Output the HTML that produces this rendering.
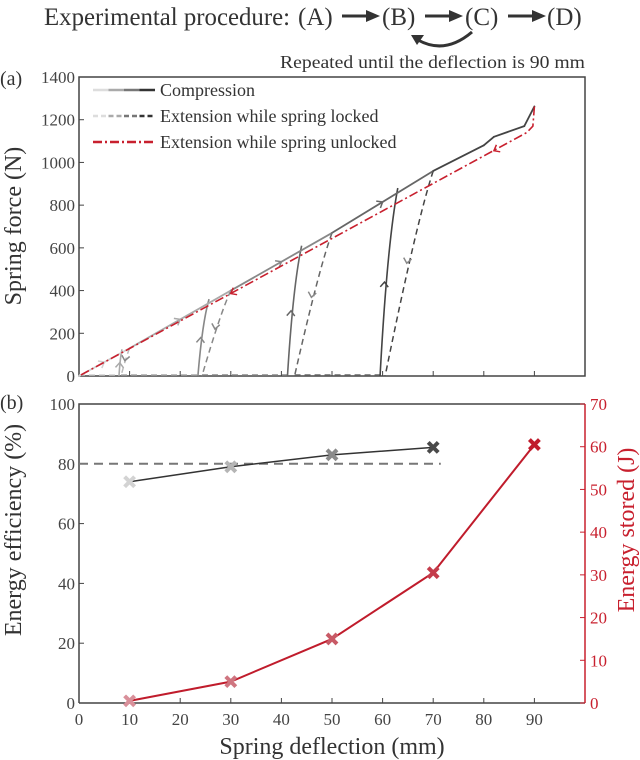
<!DOCTYPE html>
<html><head><meta charset="utf-8"><style>
body{margin:0;background:#fff;}
svg, svg text{font-family:"Liberation Serif","DejaVu Serif",serif;}
</style></head><body>
<svg id="fig" font-family="Liberation Serif, DejaVu Serif, serif" width="640" height="760" viewBox="0 0 640 760" xmlns="http://www.w3.org/2000/svg" style="display:block">
<g fill="#333" font-size="25">
<text x="44" y="25" textLength="246" lengthAdjust="spacingAndGlyphs">Experimental procedure:</text>
<text x="298" y="25">(A)</text>
<text x="382" y="25">(B)</text>
<text x="465" y="25">(C)</text>
<text x="547" y="25">(D)</text>
<path d="M342 16 H368" stroke="#333" stroke-width="3"/><path d="M366 10 L380 16 L366 22Z" fill="#333"/>
<path d="M425 16 H450" stroke="#333" stroke-width="3"/><path d="M449 10 L463 16 L449 22Z" fill="#333"/>
<path d="M508 16 H533" stroke="#333" stroke-width="3"/><path d="M532 10 L546 16 L532 22Z" fill="#333"/>
<path d="M472 32 Q445 55 418 40" stroke="#333" stroke-width="3" fill="none"/><path d="M411 35 L424 35 L417 45Z" fill="#333"/>
<text x="280" y="68" font-size="18" textLength="305" lengthAdjust="spacingAndGlyphs">Repeated until the deflection is 90 mm</text>
</g>
<text x="0" y="85" font-size="20" fill="#333">(a)</text>
<text x="0" y="409" font-size="20" fill="#333">(b)</text>
<g id="topchart"></g>
<g id="botchart"></g>
</svg>
<script>
// ---- top chart data
const topXTicks=[0,10,20,30,40,50,60,70,80,90,100];
const topYTicks=[0,200,400,600,800,1000,1200,1400];
const compX=[0,10,30,50,70,80,82,88,90];
const compY=[0,130,400,670,960,1080,1120,1170,1262];
const compColors=['#d0d0d0','#aaa','#888','#666','#444','#444','#444','#444'];
const reloadBaseX=[7.9,23.5,41.2,59.5];
const reloadTopX=[8.5,25.7,44,63];
const reloadTopY=[125,360,610,880];
const lockStartX=[10,30,50,70];
const lockStartY=[130,400,670,960];
const lockEndX=[8.3,24.3,42.6,60.5];
const redX=[0,88.5,89.7,90];
const redY=[0,1140,1170,1262];
// ---- bottom chart data
const defl=[10,30,50,70,90];
const eff=[74,79,83,85.5];
const energy=[0.5,5,15,30.5,60.5];
const effColors=['#d3d3d3','#b5b5b5','#8a8a8a','#4a4a4a'];
const enColors=['#d9909a','#cf7580','#c85a66','#c43c4b','#c01c2c'];
const botYTicks=[0,20,40,60,80,100];
const botY2Ticks=[0,10,20,30,40,50,60,70];
const refLine=80;

const NS='http://www.w3.org/2000/svg';
function mk(parent,tag,attrs,txt){const e=document.createElementNS(NS,tag);for(const k in attrs)e.setAttribute(k,attrs[k]);if(txt!==undefined)e.textContent=txt;parent.appendChild(e);return e;}
const L=79,R=585;
const xs=v=>L+(v/100)*(R-L);
const T=77,B=376;
const ys=v=>B-(v/1400)*(B-T);
const tg=document.getElementById('topchart');
let fr=mk(tg,'rect',{x:L,y:T,width:R-L,height:B-T,fill:'none',stroke:'#444','stroke-width':1.5});


topXTicks.forEach(t=>{let e=mk(tg,'line',{x1:xs(t),x2:xs(t),y1:B,y2:B-5,stroke:'#444'});

});
topYTicks.forEach(t=>{mk(tg,'line',{x1:L,x2:L+5,y1:ys(t),y2:ys(t),stroke:'#444'});
let e=mk(tg,'text',{x:L-4,y:ys(t)+6,'text-anchor':'end','font-size':17,fill:'#444'},t);

});
let yt=mk(tg,'text',{transform:'translate(21,226) rotate(-90)','text-anchor':'middle','font-size':24,fill:'#333'},'Spring force (N)');


function arrow(g,x,y,ang,col){mk(g,'path',{d:'M-5,-4 L0,0 L-5,4',transform:`translate(${x},${y}) rotate(${ang})`,stroke:col,'stroke-width':1.5,fill:'none'});}
lockEndX.forEach((e,i)=>{let ln=mk(tg,'line',{x1:xs(i?lockEndX[i-1]:0),x2:xs(reloadBaseX[i]),y1:B-1,y2:B-1,stroke:compColors[i],'stroke-width':1.5,'stroke-dasharray':'6,4'});

});
lockStartX.forEach((x,i)=>{const c=compColors[i+1]||'#444';const x0=xs(x),y0=ys(lockStartY[i]),x1=xs(lockEndX[i]);
let p=mk(tg,'path',{d:`M${x0},${y0} Q${x0-(x0-x1)*0.35},${ys(lockStartY[i]*0.75)} ${x1},${B}`,stroke:i==0?'#bbb':c,'stroke-width':1.5,fill:'none','stroke-dasharray':'6,4'});


arrow(tg,x0-(x0-x1)*0.55,ys(lockStartY[i]*0.55),100,'#888');});
reloadBaseX.forEach((x,i)=>{const c=compColors[i+1]||'#333';const x0=xs(x),x1=xs(reloadTopX[i]),yt=ys(reloadTopY[i]);
let p=mk(tg,'path',{d:`M${x0},${B} Q${x0+(x1-x0)*0.4},${ys(reloadTopY[i]*0.7)} ${x1},${yt}`,stroke:i==0?'#aaa':c,'stroke-width':1.6,fill:'none'});


arrow(tg,x0+(x1-x0)*0.25,ys(reloadTopY[i]*0.5),-87,c);});
for(let i=0;i<compX.length-1;i++){let p=mk(tg,'line',{x1:xs(compX[i]),y1:ys(compY[i]),x2:xs(compX[i+1]),y2:ys(compY[i+1]),stroke:compColors[i],'stroke-width':1.8,'stroke-linecap':'round'});


if(i<4){const mx=(xs(compX[i])+xs(compX[i+1]))/2,my=(ys(compY[i])+ys(compY[i+1]))/2;
const ang=Math.atan2(ys(compY[i+1])-ys(compY[i]),xs(compX[i+1])-xs(compX[i]))*180/Math.PI;arrow(tg,mx,my,ang,compColors[i]);}}
let rp='';for(let i=redX.length-1;i>=0;i--)rp+=(rp?' L':'M')+xs(redX[i])+','+ys(redY[i]);
let red=mk(tg,'path',{d:rp,stroke:'#c8202e','stroke-width':1.6,fill:'none','stroke-dasharray':'9,3,2,3'});


const redAng=180+Math.atan2(ys(1140)-ys(0),xs(88.5)-xs(0))*180/Math.PI;
[[82,1055],[30,386]].forEach(p=>arrow(tg,xs(p[0]),ys(p[1]),redAng,'#c8202e'));
const lg=mk(tg,'g',{});


const lgY=[90,116,142],lgT=['Compression','Extension while spring locked','Extension while spring unlocked'];
['#ddd','#aaa','#777','#333'].forEach((c,k)=>{mk(lg,'line',{x1:93+k*15.5,x2:108.5+k*15.5,y1:90,y2:90,stroke:c,'stroke-width':2.5});mk(lg,'line',{x1:93+k*15.5,x2:108.5+k*15.5,y1:116,y2:116,stroke:c,'stroke-width':2.5,'stroke-dasharray':'5,3'});});
mk(lg,'line',{x1:93,x2:155,y1:142,y2:142,stroke:'#c8202e','stroke-width':2.5,'stroke-dasharray':'9,3,2,3'});
lgT.forEach((t,i)=>{let e=mk(lg,'text',{x:160,y:lgY[i]+6,'font-size':18,fill:'#333'},t);

});

const bg=document.getElementById('botchart');
const BT=404,BB=703;
const yl=v=>BB-(v/100)*(BB-BT), yr=v=>BB-(v/70)*(BB-BT);
mk(bg,'path',{d:`M${L},${BB} V${BT} H${R}`,stroke:'#444','stroke-width':1.5,fill:'none'});
mk(bg,'line',{x1:L,x2:R,y1:BB,y2:BB,stroke:'#444','stroke-width':1.5});
mk(bg,'line',{x1:R,x2:R,y1:BT,y2:BB,stroke:'#c8202e','stroke-width':1.5});
topXTicks.slice(0,10).forEach(t=>{mk(bg,'line',{x1:xs(t),x2:xs(t),y1:BB,y2:BB-5,stroke:'#444'});
let e=mk(bg,'text',{x:xs(t),y:BB+22,'text-anchor':'middle','font-size':17,fill:'#444'},t);

});
botYTicks.forEach(t=>{mk(bg,'line',{x1:L,x2:L+5,y1:yl(t),y2:yl(t),stroke:'#444'});
let e=mk(bg,'text',{x:L-4,y:yl(t)+6,'text-anchor':'end','font-size':17,fill:'#444'},t);

});
botY2Ticks.forEach(t=>{mk(bg,'line',{x1:R,x2:R-5,y1:yr(t),y2:yr(t),stroke:'#c8202e'});
let e=mk(bg,'text',{x:R+5,y:yr(t)+6,'font-size':17,fill:'#c8202e'},t);

});
let t1=mk(bg,'text',{transform:'translate(21,530) rotate(-90)','text-anchor':'middle','font-size':24,fill:'#333'},'Energy efficiency (%)');


let t2=mk(bg,'text',{transform:'translate(634,530) rotate(-90)','text-anchor':'middle','font-size':24,fill:'#c8202e'},'Energy stored (J)');


let t3=mk(bg,'text',{x:332,y:754,'text-anchor':'middle','font-size':24,fill:'#333'},'Spring deflection (mm)');


let rl=mk(bg,'line',{x1:xs(0),x2:xs(71.5),y1:yl(refLine),y2:yl(refLine),stroke:'#777','stroke-width':2,'stroke-dasharray':'9,6'});


let ep=mk(bg,'polyline',{points:eff.map((v,i)=>xs(defl[i])+','+yl(v)).join(' '),stroke:'#333','stroke-width':1.5,fill:'none'});


let np=mk(bg,'polyline',{points:energy.map((v,i)=>xs(defl[i])+','+yr(v)).join(' '),stroke:'#c01c2c','stroke-width':2,fill:'none'});


function cross(x,y,c,name){const g=mk(bg,'path',{d:`M${x-5},${y-5}L${x+5},${y+5}M${x-5},${y+5}L${x+5},${y-5}`,stroke:c,'stroke-width':4});

}
eff.forEach((v,i)=>cross(xs(defl[i]),yl(v),effColors[i],'efficiency-marker'));
energy.forEach((v,i)=>cross(xs(defl[i]),yr(v),enColors[i],'energy-marker'));
</script>
</body></html>
